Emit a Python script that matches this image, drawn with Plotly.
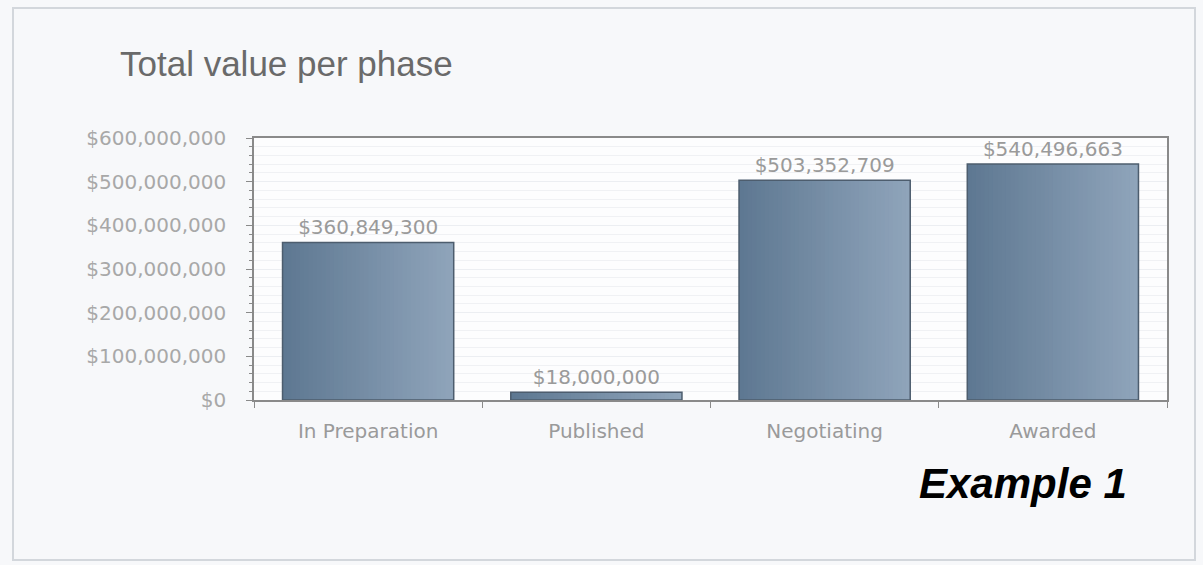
import plotly.graph_objects as go

phases = ["In Preparation", "Published", "Negotiating", "Awarded"]
values = [360849300, 18000000, 503352709, 540496663]
value_labels = ["$360,849,300", "$18,000,000", "$503,352,709", "$540,496,663"]
y_tick_vals = [0, 100000000, 200000000, 300000000, 400000000, 500000000, 600000000]
y_tick_text = ["$0", "$100,000,000", "$200,000,000", "$300,000,000",
               "$400,000,000", "$500,000,000", "$600,000,000"]

W, H = 1203, 565
L, R, T, B = 254, 1167, 138, 400

BAR_W = 0.75
N_STRIPS = 40
c0 = (94, 120, 146)   # left (dark)
c1 = (143, 164, 186)  # right (light)

fig = go.Figure()
sw = BAR_W / N_STRIPS
for k in range(N_STRIPS):
    t = k / (N_STRIPS - 1)
    col = "rgb({},{},{})".format(*[round(a + (b - a) * t) for a, b in zip(c0, c1)])
    fig.add_trace(go.Bar(
        x=phases, y=values, width=min(2 * sw, BAR_W - k * sw), offset=-BAR_W / 2 + k * sw,
        marker=dict(color=col, line=dict(width=0)),
        hoverinfo="skip",
    ))

fig.add_trace(go.Bar(
    x=phases, y=values, text=value_labels, textposition="outside",
    textfont=dict(family="DejaVu Sans", size=20, color="#9a9a9a"),
    cliponaxis=False,
    width=BAR_W, offset=-BAR_W / 2,
    marker=dict(color="rgba(0,0,0,0)", line=dict(color="#4d5d6e", width=1.5)),
))

def px(x):
    return (x - L) / (R - L)

def py(y):
    return (B - y) / (B - T)

fig.update_layout(
    width=W, height=H,
    margin=dict(l=L, r=W - R, t=T, b=H - B),
    paper_bgcolor="#f7f8fa",
    plot_bgcolor="#fdfdfe",
    showlegend=False,
    barmode="overlay",
    title=dict(text="Total value per phase", xref="container", yref="container",
               x=120 / W, y=1 - 64 / H, xanchor="left", yanchor="middle",
               font=dict(family="Liberation Sans", size=35, color="#6a6a6a")),
    xaxis=dict(
        showline=True, linecolor="#8a8a8a", linewidth=1.5, mirror=True,
        ticks="outside", tickson="boundaries", ticklen=6, tickcolor="#8a8a8a",
        tickfont=dict(family="DejaVu Sans", size=20, color="#9a9a9a"),
        ticklabelstandoff=12,
        showgrid=False,
    ),
    yaxis=dict(
        range=[0, 600000000], tickvals=y_tick_vals, ticktext=y_tick_text,
        showline=True, linecolor="#8a8a8a", linewidth=1.5, mirror=True,
        ticks="outside", ticklen=6, tickcolor="#8a8a8a",
        tickfont=dict(family="DejaVu Sans", size=20, color="#a8a8a8"),
        ticklabelstandoff=16,
        showgrid=True, gridcolor="#eceef2", gridwidth=1,
        minor=dict(dtick=20000000, showgrid=True, gridcolor="#f0f1f4",
                   ticks="outside", ticklen=3, tickcolor="#8a8a8a"),
        zeroline=False,
    ),
    shapes=[dict(type="rect", xref="paper", yref="paper",
                 x0=px(13), x1=px(1195), y0=py(560), y1=py(8),
                 line=dict(color="#d3d7dc", width=2), layer="below")],
    annotations=[dict(text="<b><i>Example 1</i></b>", xref="paper", yref="paper",
                      x=px(1023), y=py(483), xanchor="center", yanchor="middle",
                      showarrow=False,
                      font=dict(family="Liberation Sans", size=42, color="#000000"))],
)

fig.write_html("out.html")
